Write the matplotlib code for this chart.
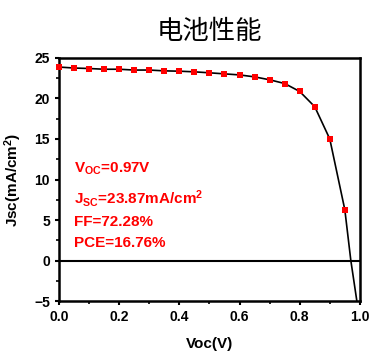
import numpy as np
import matplotlib.pyplot as plt
from matplotlib.ticker import MultipleLocator

# measured J-V points (red squares)
voc = [0.0, 0.05, 0.1, 0.15, 0.2, 0.25, 0.3, 0.35, 0.4, 0.45,
       0.5, 0.55, 0.6, 0.65, 0.7, 0.75, 0.8, 0.85, 0.9, 0.95]
jsc = [23.87, 23.75, 23.69, 23.6, 23.6, 23.5, 23.5, 23.4, 23.36, 23.28,
       23.16, 23.03, 22.9, 22.66, 22.3, 21.84, 20.86, 18.98, 15.0, 6.27]
# tail of the line past the last marker
voc_tail = [0.97, 0.99]
jsc_tail = [0.0, -5.0]

labels = ['V$_{\\mathbf{OC}}$=0.97V', 'J$_{\\mathbf{SC}}$=23.87mA/cm$^{\\mathbf{2}}$',
          'FF=72.28%', 'PCE=16.76%']
label_y = [11.3, 7.7, 4.7, 2.2]

plt.rcParams['font.family'] = ['Liberation Sans', 'DejaVu Sans']
plt.rcParams['mathtext.fontset'] = 'custom'
plt.rcParams['mathtext.rm'] = 'Liberation Sans:bold'
plt.rcParams['mathtext.bf'] = 'Liberation Sans:bold'
plt.rcParams['mathtext.it'] = 'Liberation Sans:bold'

fig = plt.figure(figsize=(3.71, 3.53), dpi=100)
ax = fig.add_axes([0.159, 0.147, 0.811, 0.689])

ax.plot(voc + voc_tail, jsc + jsc_tail, color='black', lw=1.2, zorder=2)
ax.scatter(voc, jsc, marker='s', s=22, color='#ff0000', zorder=3, linewidths=0,
           clip_on=False)
ax.axhline(0, color='black', lw=1.5, zorder=1)

ax.set_xlim(0, 1.0)
ax.set_ylim(-5, 25)
ax.xaxis.set_major_locator(MultipleLocator(0.2))
ax.xaxis.set_minor_locator(MultipleLocator(0.1))
ax.yaxis.set_major_locator(MultipleLocator(5))
ax.yaxis.set_minor_locator(MultipleLocator(2.5))
ax.tick_params(which='major', direction='out', length=3, width=1.5, labelsize=10)
ax.tick_params(which='minor', direction='out', length=2, width=1.2)
for lab in ax.get_xticklabels() + ax.get_yticklabels():
    lab.set_fontweight('bold')
for sp in ax.spines.values():
    sp.set_linewidth(1.8)

ax.set_xlabel('Voc(V)', fontsize=11, fontweight='bold', labelpad=9)
ax.set_ylabel('Jsc(mA/cm$^{2}$)', fontsize=11, fontweight='bold', labelpad=7)

for t, y in zip(labels, label_y):
    ax.text(0.05, y, t, color='#ff0000', fontsize=11, fontweight='bold', va='center')

fig.text(0.565, 0.91, '电池性能', fontsize=19, ha='center', va='center',
         family=['Noto Sans CJK SC', 'DejaVu Sans'])

fig.savefig('out.png', dpi=100)
